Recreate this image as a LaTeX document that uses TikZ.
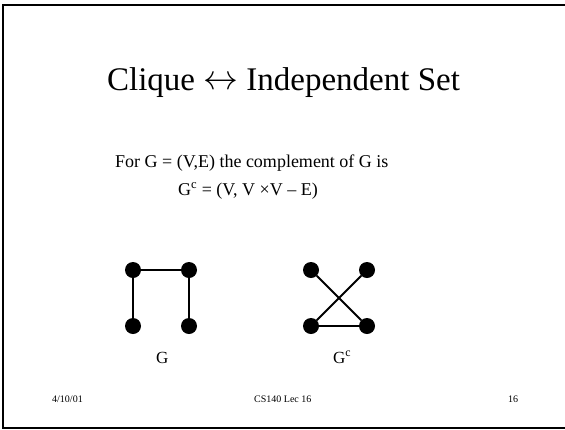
\documentclass[tikz,border=0pt]{standalone}
\usepackage{graphicx}
\usepackage{fontspec}
\setmainfont{Liberation Serif}
\begin{document}
\begin{tikzpicture}[x=1pt,y=-1pt,
  vtx/.style={circle,fill=black,draw=none,minimum size=16pt,inner sep=0pt},
  edge/.style={line width=2pt},
  txt/.style={inner sep=0pt,anchor=base west},
  frame/.style={line width=2pt}]
\useasboundingbox (0,0) rectangle (565,429);
\clip (0,0) rectangle (565,429);
\draw[frame] (570,5) -- (3,5) -- (3,428) -- (570,428);
% title
\node[inner sep=0pt,anchor=base] (title) at (283.5,90) {\fontsize{33}{40}\selectfont Clique \raisebox{1pt}{\scalebox{1.4}{$\leftrightarrow$}} Independent Set};
% body
\node[txt] (l1) at (115,167) {\fontsize{18}{20}\selectfont For G = (V,E) the complement of G is};
\node[txt] (l2) at (178,195) {\fontsize{18}{20}\selectfont G\textsuperscript{c} = (V, V ×V – E)};
% graph G
\node[vtx] (a1) at (133,270) {};
\node[vtx] (a2) at (189,270) {};
\node[vtx] (a3) at (133,326) {};
\node[vtx] (a4) at (189,326) {};
\draw[edge] (a1) -- (a2);
\draw[edge] (a1) -- (a3);
\draw[edge] (a2) -- (a4);
% graph Gc
\node[vtx] (b1) at (311,270) {};
\node[vtx] (b2) at (367,270) {};
\node[vtx] (b3) at (311,326) {};
\node[vtx] (b4) at (367,326) {};
\draw[edge] (b1) -- (b4);
\draw[edge] (b2) -- (b3);
\draw[edge] (b3) -- (b4);
% labels
\node[txt] (lg) at (156,363) {\fontsize{17}{20}\selectfont G};
\node[txt] (lgc) at (333,363) {\fontsize{17}{20}\selectfont G\textsuperscript{c}};
% footer
\node[txt] (f1) at (52,402) {\fontsize{10}{12}\selectfont 4/10/01};
\node[txt] (f2) at (254,402) {\fontsize{10}{12}\selectfont CS140 Lec 16};
\node[txt] (f3) at (508,402) {\fontsize{10}{12}\selectfont 16};
\end{tikzpicture}
\end{document}
